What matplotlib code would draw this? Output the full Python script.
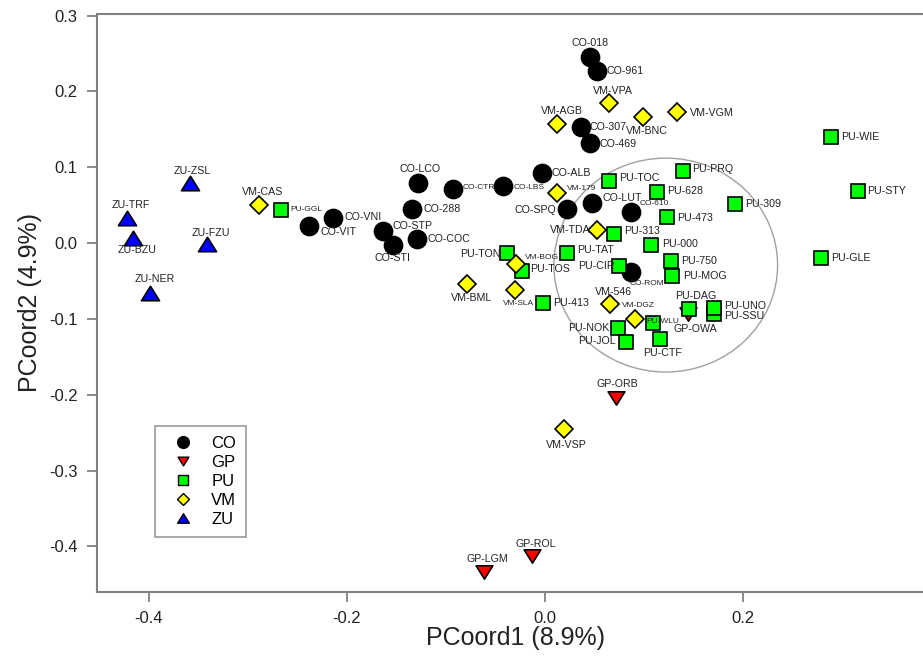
import matplotlib
matplotlib.use("Agg")
import matplotlib.pyplot as plt
from matplotlib.lines import Line2D
from matplotlib.patches import Ellipse
from matplotlib.path import Path

plt.rcParams['font.family'] = ['Liberation Sans', 'DejaVu Sans']

# --- data ---
co_names = ['CO-018', 'CO-961', 'CO-307', 'CO-469', 'CO-ALB', 'CO-LCO', 'CO-CTR', 'CO-LBS', 'CO-VNI',
            'CO-VIT', 'CO-288', 'CO-STP', 'CO-STI', 'CO-COC', 'CO-SPQ', 'CO-LUT', 'CO-610', 'CO-ROM']
co_x = [0.045, 0.053, 0.036, 0.045, -0.003, -0.128, -0.093, -0.042, -0.214,
        -0.238, -0.134, -0.164, -0.154, -0.129, 0.022, 0.048, 0.087, 0.087]
co_y = [0.245, 0.227, 0.153, 0.132, 0.092, 0.079, 0.071, 0.075, 0.033,
        0.022, 0.045, 0.016, -0.003, 0.005, 0.045, 0.053, 0.041, -0.038]

gp_names = ['GP-ORB', 'GP-LGM', 'GP-ROL', 'GP-OWA']
gp_x = [0.072, -0.062, -0.013, 0.144]
gp_y = [-0.204, -0.434, -0.413, -0.094]

pu_names = ['PU-WIE', 'PU-STY', 'PU-GLE', 'PU-309', 'PU-PRQ', 'PU-TOC', 'PU-628', 'PU-473', 'PU-313',
            'PU-000', 'PU-TAT', 'PU-CIR', 'PU-750', 'PU-MOG', 'PU-413', 'PU-TON', 'PU-TOS', 'PU-GGL',
            'PU-DAG', 'PU-SSU', 'PU-UNO', 'PU-WLU', 'PU-NOK', 'PU-JOL', 'PU-CTF']
pu_x = [0.289, 0.316, 0.279, 0.192, 0.139, 0.065, 0.113, 0.123, 0.070,
        0.107, 0.022, 0.075, 0.127, 0.128, -0.002, -0.038, -0.023, -0.267,
        0.146, 0.171, 0.171, 0.109, 0.074, 0.082, 0.116]
pu_y = [0.140, 0.069, -0.020, 0.051, 0.095, 0.082, 0.067, 0.034, 0.012,
        -0.003, -0.013, -0.030, -0.024, -0.044, -0.079, -0.013, -0.037, 0.044,
        -0.087, -0.093, -0.086, -0.105, -0.112, -0.130, -0.127]

vm_names = ['VM-VPA', 'VM-AGB', 'VM-BNC', 'VM-VGM', 'VM-CAS', 'VM-179', 'VM-TDA', 'VM-BOG',
            'VM-BML', 'VM-SLA', 'VM-546', 'VM-DGZ', 'VM-VSP']
vm_x = [0.065, 0.012, 0.099, 0.133, -0.289, 0.012, 0.053, -0.029, -0.079, -0.030, 0.066, 0.091, 0.019]
vm_y = [0.185, 0.157, 0.166, 0.173, 0.050, 0.066, 0.017, -0.027, -0.054, -0.062, -0.080, -0.100, -0.245]

zu_names = ['ZU-ZSL', 'ZU-TRF', 'ZU-BZU', 'ZU-FZU', 'ZU-NER']
zu_x = [-0.359, -0.422, -0.416, -0.341, -0.399]
zu_y = [0.079, 0.033, 0.007, -0.001, -0.066]

# ellipse drawn round the central cluster
ell_center = (0.122, -0.029)
ell_w, ell_h = 0.226, 0.282

# label placement: (align, dx px, dy px)
label_pos = {
    'CO-018': ('c', 1, 14), 'CO-961': ('l', 9, 0), 'CO-307': ('l', 9, 0), 'CO-469': ('l', 10, -1),
    'CO-ALB': ('l', 10, 0), 'CO-LCO': ('c', 2, 14), 'CO-CTR': ('l', 10, 2), 'CO-LBS': ('l', 10, -1),
    'CO-VNI': ('l', 11, 1), 'CO-VIT': ('l', 11, -6), 'CO-288': ('l', 11, 0), 'CO-STP': ('l', 10, 5),
    'CO-STI': ('c', 0, -13), 'CO-COC': ('l', 10, 0), 'CO-SPQ': ('r', -10, -1), 'CO-LUT': ('l', 10, 5),
    'CO-610': ('l', 9, 8), 'CO-ROM': ('c', 16, -12),
    'GP-ORB': ('c', 1, 14), 'GP-LGM': ('c', 4, 13), 'GP-ROL': ('c', 4, 12), 'GP-OWA': ('c', 8, -15),
    'PU-WIE': ('l', 10, 0), 'PU-STY': ('l', 9, 0), 'PU-GLE': ('l', 10, 0), 'PU-309': ('l', 10, 0),
    'PU-PRQ': ('l', 10, 2), 'PU-TOC': ('l', 10, 3), 'PU-628': ('l', 10, 1), 'PU-473': ('l', 10, -1),
    'PU-313': ('l', 10, 3), 'PU-000': ('l', 11, 1), 'PU-TAT': ('l', 10, 3), 'PU-CIR': ('r', -5, 0),
    'PU-750': ('l', 10, 0), 'PU-MOG': ('l', 11, 0), 'PU-413': ('l', 10, 0), 'PU-TON': ('r', -7, -1),
    'PU-TOS': ('l', 8, 2), 'PU-GGL': ('l', 10, 0), 'PU-DAG': ('c', 6, 13), 'PU-UNO': ('l', 10, 2),
    'PU-SSU': ('l', 10, -2), 'PU-WLU': ('l', -6, 1), 'PU-NOK': ('r', -9, 0), 'PU-JOL': ('r', -10, 1),
    'PU-CTF': ('c', 3, -14),
    'VM-VPA': ('c', 4, 12), 'VM-AGB': ('c', 5, 13), 'VM-BNC': ('c', 4, -14), 'VM-VGM': ('l', 13, -1),
    'VM-CAS': ('c', 4, 13), 'VM-179': ('l', 10, 5), 'VM-TDA': ('r', -7, 0), 'VM-BOG': ('l', 9, 6),
    'VM-BML': ('c', 5, -14), 'VM-SLA': ('c', 3, -13), 'VM-546': ('c', 3, 12), 'VM-DGZ': ('c', 3, 13),
    'VM-VSP': ('c', 3, -16),
    'ZU-ZSL': ('c', 3, 12), 'ZU-TRF': ('c', 4, 13), 'ZU-BZU': ('c', 4, -12), 'ZU-FZU': ('c', 3, 11),
    'ZU-NER': ('c', 5, 14),
}
small_labels = ['CO-CTR', 'CO-LBS', 'CO-610', 'CO-ROM', 'VM-179', 'VM-BOG', 'VM-SLA', 'VM-DGZ',
                'PU-WLU', 'PU-GGL']

# wide, flat triangles like SigmaPlot's
tri_up = Path([(0, 0.8), (-1, -0.8), (1, -0.8), (0, 0.8)], closed=True)
tri_dn = Path([(0, -0.8), (-1, 0.8), (1, 0.8), (0, -0.8)], closed=True)

groups = [
    ('CO', co_names, co_x, co_y, 'o', 'black', 13),
    ('GP', gp_names, gp_x, gp_y, tri_dn, '#ff0000', 12),
    ('PU', pu_names, pu_x, pu_y, 's', '#00ff00', 10),
    ('VM', vm_names, vm_x, vm_y, 'D', '#ffff00', 9),
    ('ZU', zu_names, zu_x, zu_y, tri_up, '#0000ff', 13),
]

fig = plt.figure(figsize=(9.23, 6.61), dpi=100)
ax = fig.add_axes([97 / 923, 69 / 661, 838 / 923, 578 / 661])

ax.add_patch(Ellipse(ell_center, ell_w, ell_h, fill=False, edgecolor='#a0a0a0', lw=1.0, zorder=1))

handles = []
for name, names, xs, ys, mk, col, ms in groups:
    ax.plot(xs, ys, linestyle='none', marker=mk, markersize=ms, markerfacecolor=col,
            markeredgecolor='black', markeredgewidth=1.2, zorder=3)
    handles.append(Line2D([], [], linestyle='none', marker=mk, markersize=ms * 0.65,
                          markerfacecolor=col, markeredgecolor='black', markeredgewidth=1.0,
                          label=name))
    for n, x, y in zip(names, xs, ys):
        al, dx, dy = label_pos[n]
        ha = {'l': 'left', 'r': 'right', 'c': 'center'}[al]
        fs = 6 if n in small_labels else 7.7
        ax.annotate(n, (x, y), xytext=(dx, dy), textcoords='offset pixels',
                    ha=ha, va='center', fontsize=fs, color='#222222', zorder=4)

ax.set_xlim(-0.4525, 0.394)
ax.set_ylim(-0.46, 0.302)
ax.set_xticks([-0.4, -0.2, 0.0, 0.2])
ax.set_xticklabels(['-0.4', '-0.2', '0.0', '0.2'])
ax.set_yticks([0.3, 0.2, 0.1, 0.0, -0.1, -0.2, -0.3, -0.4])
ax.set_yticklabels(['0.3', '0.2', '0.1', '0.0', '-0.1', '-0.2', '-0.3', '-0.4'])
for sp in ax.spines.values():
    sp.set_color('#808080')
    sp.set_linewidth(1.5)
ax.tick_params(direction='out', length=7, width=1.3, color='#808080', labelsize=12,
               labelcolor='#222222', pad=7)

ax.set_xlabel('PCoord1 (8.9%)', fontsize=18, color='#222222', labelpad=0)
ax.set_ylabel('PCoord2 (4.9%)', fontsize=18, color='#222222', labelpad=5)

leg = ax.legend(handles=handles, loc='upper left', bbox_to_anchor=(58 / 838, 166 / 578),
                borderaxespad=0, fontsize=12, frameon=True, fancybox=False,
                handletextpad=0.6, labelspacing=0.25, borderpad=0.57, handlelength=2.2)
leg.get_frame().set_edgecolor('#808080')
leg.get_frame().set_linewidth(1.2)

fig.savefig('out.png', dpi=100)
